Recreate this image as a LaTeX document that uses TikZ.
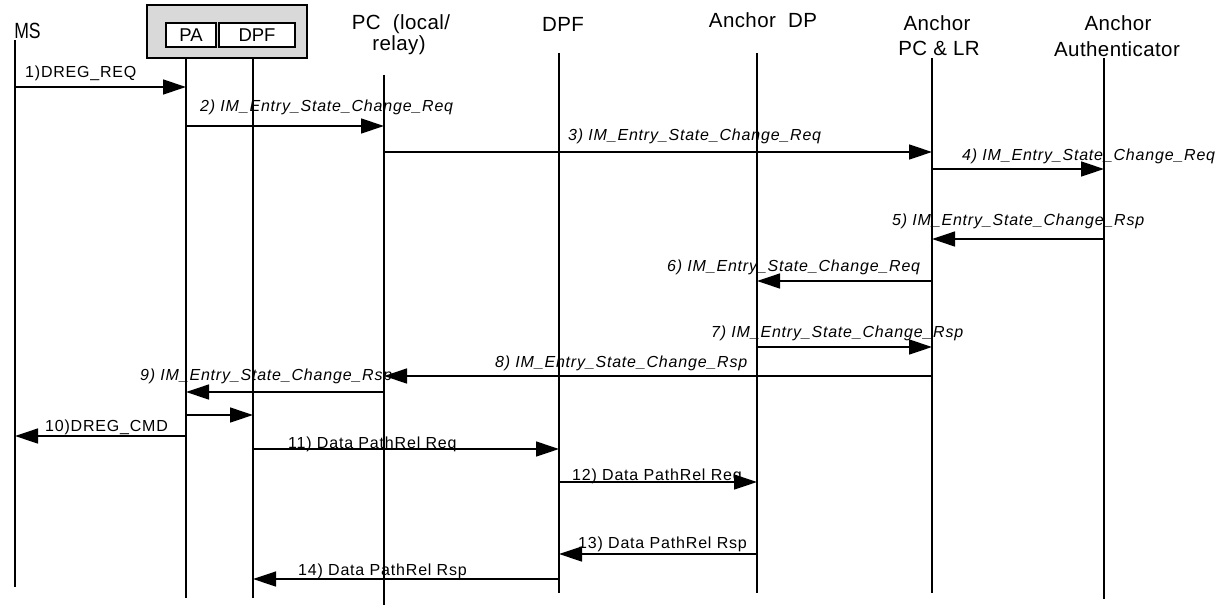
\documentclass[tikz,border=0pt]{standalone}
\usepackage{fontspec}
\setmainfont{Liberation Sans}
\newfontfamily\lblfont[LetterSpace=5]{Liberation Sans}
\newfontfamily\hdrfont[LetterSpace=2]{Liberation Sans}
\usetikzlibrary{arrows.meta}
\begin{document}
\begin{tikzpicture}[x=1pt,y=-1pt,
  life/.style={line width=1.4pt,black},
  msg/.style={line width=1.3pt,-{Triangle[length=23pt,width=15pt]}},
  lbl/.style={inner sep=0pt,anchor=base west,font=\lblfont\fontsize{16}{19}\selectfont},
  ilbl/.style={lbl,font=\lblfont\itshape\fontsize{16}{19}\selectfont},
  hdr/.style={inner sep=0pt,anchor=base,font=\hdrfont\fontsize{20.5}{24}\selectfont},
  inbox/.style={draw,line width=1.2pt,fill=white,inner sep=0pt,font=\fontsize{18.5}{22}\selectfont}]
\useasboundingbox (0,0) rectangle (1225,607);

% headers
\node[hdr,font=\fontsize{22}{24}\selectfont] (hMS) at (27.5,38.5) {\scalebox{0.8}[1]{MS}};
\node[hdr] (hPC1) at (401,30) {PC\ \ (local/};
\node[hdr] (hPC2) at (399,51) {relay)};
\node[hdr] (hDPF) at (563,32) {DPF};
\node[hdr] (hADP) at (763,28) {Anchor\ \ DP};
\node[hdr] (hAPC1) at (937,31) {Anchor};
\node[hdr] (hAPC2) at (939,56) {PC \& LR};
\node[hdr] (hAU1) at (1118,31) {Anchor};
\node[hdr] (hAU2) at (1117,57) {Authenticator};

% grey box
\node[draw,line width=1.3pt,fill=black!15,minimum width=160pt,minimum height=53pt,inner sep=0pt] (grey) at (227,31.5) {};
\node[inbox,minimum width=50pt,minimum height=24pt] (boxPA) at (191,35) {PA};
\node[inbox,minimum width=76pt,minimum height=24pt] (boxDPF) at (257,35) {DPF};

% lifelines
\coordinate (MSt) at (15,40);    \coordinate (MSb) at (15,587);
\coordinate (PAt) at (186,58);   \coordinate (PAb) at (186,598);
\coordinate (DPIt) at (253,58);  \coordinate (DPIb) at (253,598);
\coordinate (PCt) at (384,75);   \coordinate (PCb) at (384,605);
\coordinate (DPFt) at (559,53);  \coordinate (DPFb) at (559,593);
\coordinate (ADPt) at (757,53);  \coordinate (ADPb) at (757,593);
\coordinate (APCt) at (932,58);  \coordinate (APCb) at (932,593);
\coordinate (AUt) at (1104,58);  \coordinate (AUb) at (1104,599);
\foreach \l in {MS,PA,DPI,PC,DPF,ADP,APC,AU}{\draw[life] (\l t) -- (\l b);}

% message rows
\coordinate (y1) at (0,87);
\coordinate (y2) at (0,126);
\coordinate (y3) at (0,152);
\coordinate (y4) at (0,169);
\coordinate (y5) at (0,239);
\coordinate (y6) at (0,281);
\coordinate (y7) at (0,347);
\coordinate (y8) at (0,376);
\coordinate (y9) at (0,392);
\coordinate (y9b) at (0,415);
\coordinate (y10) at (0,436);
\coordinate (y11) at (0,449);
\coordinate (y12) at (0,482);
\coordinate (y13) at (0,554);
\coordinate (y14) at (0,579);

\draw[msg] (MSt |- y1) -- (PAt |- y1);
\draw[msg] (PAt |- y2) -- (PCt |- y2);
\draw[msg] (PCt |- y3) -- (APCt |- y3);
\draw[msg] (APCt |- y4) -- (AUt |- y4);
\draw[msg] (AUt |- y5) -- (APCt |- y5);
\draw[msg] (APCt |- y6) -- (ADPt |- y6);
\draw[msg] (ADPt |- y7) -- (APCt |- y7);
\draw[msg] (APCt |- y8) -- (PCt |- y8);
\draw[msg] (PCt |- y9) -- (PAt |- y9);
\draw[msg] (PAt |- y9b) -- (DPIt |- y9b);
\draw[msg] (PAt |- y10) -- (MSt |- y10);
\draw[msg] (DPIt |- y11) -- (DPFt |- y11);
\draw[msg] (DPFt |- y12) -- (ADPt |- y12);
\draw[msg] (ADPt |- y13) -- (DPFt |- y13);
\draw[msg] (DPFt |- y14) -- (DPIt |- y14);

% labels
\node[lbl] (t1) at (25,78) {1)DREG\_REQ};
\node[ilbl] (t2) at (200,112) {2) IM\_Entry\_State\_Change\_Req};
\node[ilbl] (t3) at (568,140) {3) IM\_Entry\_State\_Change\_Req};
\node[ilbl] (t4) at (962,160) {4) IM\_Entry\_State\_Change\_Req};
\node[ilbl] (t5) at (892,225) {5) IM\_Entry\_State\_Change\_Rsp};
\node[ilbl] (t6) at (667,271) {6) IM\_Entry\_State\_Change\_Req};
\node[ilbl] (t7) at (711,337) {7) IM\_Entry\_State\_Change\_Rsp};
\node[ilbl] (t8) at (495,367) {8) IM\_Entry\_State\_Change\_Rsp};
\node[ilbl] (t9) at (140,380) {9) IM\_Entry\_State\_Change\_Rsp};
\node[lbl] (t10) at (45,431) {10)DREG\_CMD};
\node[lbl] (t11) at (288,448) {11) Data Path\hspace{1pt}Rel Req};
\node[lbl] (t12) at (572,480) {12) Data Path\hspace{1pt}Rel Req};
\node[lbl] (t13) at (578,548) {13) Data Path\hspace{1pt}Rel Rsp};
\node[lbl] (t14) at (298,575) {14) Data Path\hspace{1pt}Rel Rsp};
\end{tikzpicture}
\end{document}
